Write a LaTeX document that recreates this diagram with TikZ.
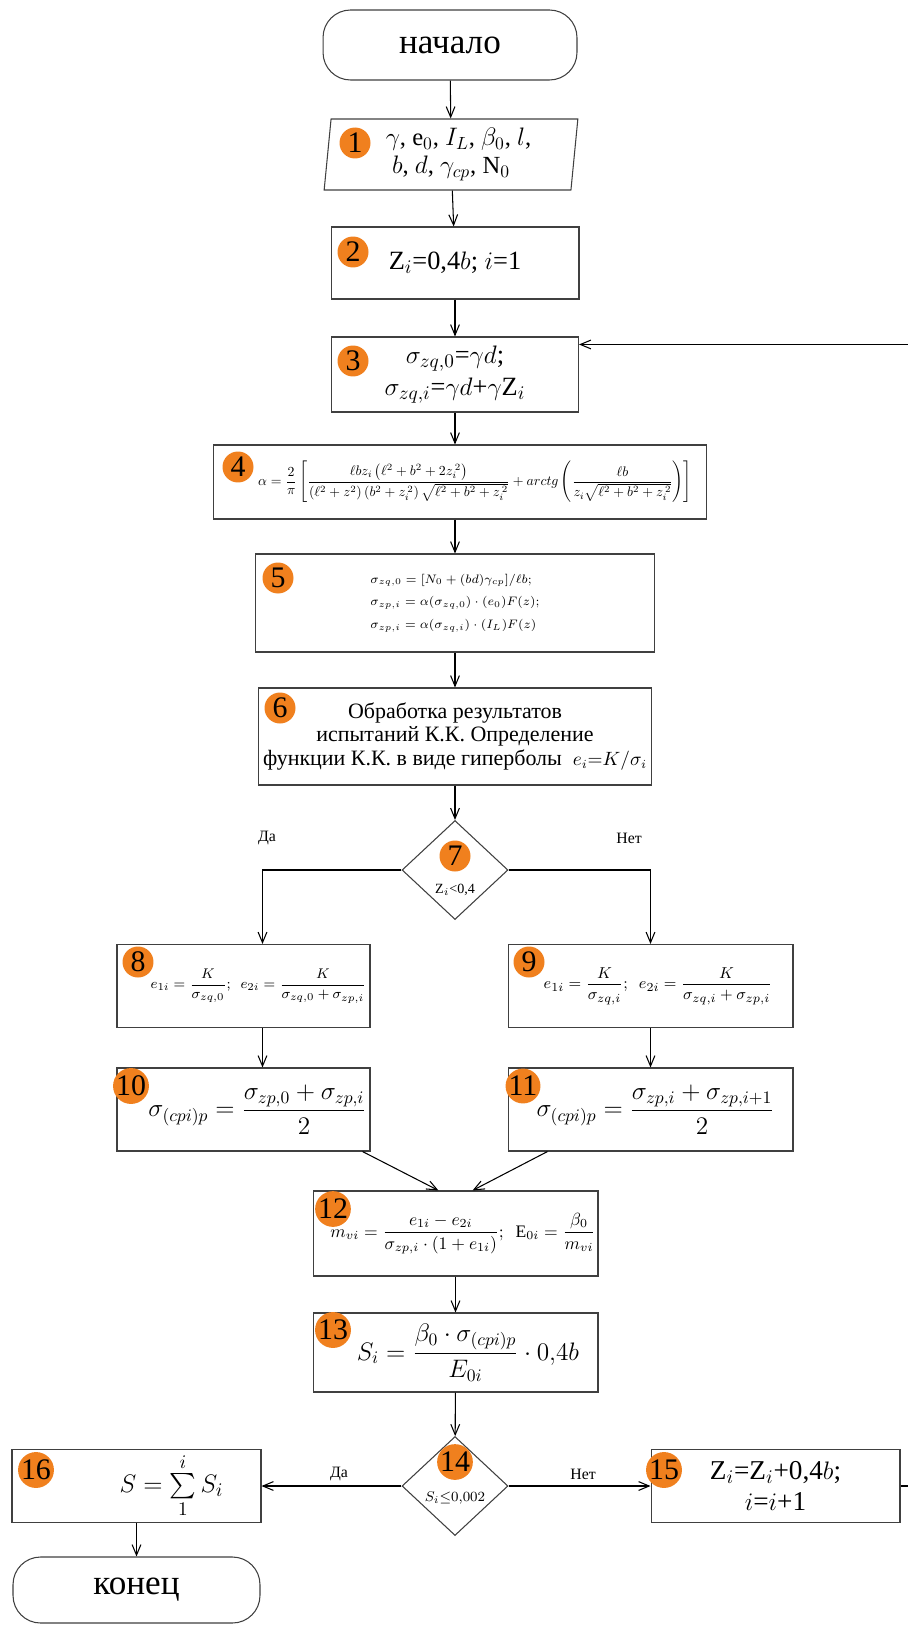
\documentclass[tikz,border=0pt]{standalone}
\usepackage{amsmath}
\usepackage{graphicx}
\usepackage{fontspec}
\setmainfont{Liberation Serif}
\usepackage{tikz}
\usetikzlibrary{arrows.meta,shapes.geometric,calc}
\definecolor{numorange}{RGB}{240,128,30}

\begin{document}
\begin{tikzpicture}[x=0.02cm,y=-0.02cm,line width=0.6pt,>={Straight Barb[length=6pt,width=5pt]},
  block/.style={rectangle,draw=black!75,fill=white,align=center,inner sep=0pt},
  term/.style={block,rounded corners=0.55cm,font=\fontsize{20}{24}\selectfont},
  cond/.style={diamond,draw=black!75,fill=white,inner sep=0pt,minimum width=2.12cm,minimum height=1.98cm},
  num/.style={circle,fill=numorange,inner sep=0pt,minimum size=0.62cm,font=\fontsize{17}{17}\selectfont},
  lbl/.style={font=\fontsize{9}{10}\selectfont}]
\useasboundingbox (0,0) rectangle (907,1625);
% main column
\draw (450,45) node[term,minimum width=5.08cm,minimum height=1.4cm] (start) {начало};
\draw (451,154.5) node[trapezium,trapezium left angle=85,trapezium right angle=95,trapezium stretches=true,draw=black!75,align=center,inner sep=0pt,minimum width=5.1cm,minimum height=1.42cm,font=\fontsize{14}{16}\selectfont] (in1) {\hspace*{0.3cm}$\gamma$, e$_0$, $I_L$, $\beta_0$, $l$,\\ $b$, $d$, $\gamma_{cp}$, N$_0$};
\draw (455,263) node[block,minimum width=4.96cm,minimum height=1.44cm,font=\fontsize{15}{17}\selectfont] (b2) {Z$_i$=0,4$b$; $i$=1};
\draw (455,374.5) node[block,minimum width=4.94cm,minimum height=1.5cm,font=\fontsize{15}{18}\selectfont] (b3) {$\sigma_{zq,0}$=$\gamma d$;\\ $\sigma_{zq,i}$=$\gamma d$+$\gamma$Z$_i$};
\draw (460,482) node[block,minimum width=9.88cm,minimum height=1.48cm] (b4) {\hspace*{0.6cm}\resizebox{8.68cm}{!}{$\alpha=\dfrac{2}{\pi}\left[\dfrac{\ell b z_i\left(\ell^2+b^2+2z_i^{\,2}\right)}{\left(\ell^2+z^2\right)\left(b^2+z_i^{\,2}\right)\sqrt{\ell^2+b^2+z_i^{\,2}}}+arctg\left(\dfrac{\ell b}{z_i\sqrt{\ell^2+b^2+z_i^{\,2}}}\right)\right]$}};
\draw (455,603) node[block,minimum width=7.98cm,minimum height=1.96cm,align=left,font=\fontsize{7}{13}\selectfont] (b5) {$\sigma_{zq,0}=[N_0+(bd)\gamma_{cp}]/\ell b;$\\ $\sigma_{zp,i}=\alpha(\sigma_{zq,0})\cdot(e_0)F(z);$\\ $\sigma_{zp,i}=\alpha(\sigma_{zq,i})\cdot(I_L)F(z)$};
\draw (455,736.5) node[block,minimum width=7.86cm,minimum height=1.94cm,font=\fontsize{12.5}{13.5}\selectfont] (b6) {Обработка результатов\\ испытаний К.К. Определение\\ функции К.К. в виде гиперболы \ {\fontsize{10.5}{12}\selectfont$e_i{=}K/\sigma_i$}};
\draw (455,870) node[cond] (d7) {};
% branches
\draw (243.5,986) node[block,minimum width=5.06cm,minimum height=1.66cm,font=\fontsize{8.3}{10}\selectfont] (b8) {\makebox[4.9cm]{\hspace*{0.6cm}\raisebox{-0.12cm}{$e_{1i}=\dfrac{K}{\sigma_{zq,0}};\ \ e_{2i}=\dfrac{K}{\sigma_{zq,0}+\sigma_{zp,i}}$}}};
\draw (650.5,986) node[block,minimum width=5.7cm,minimum height=1.66cm,font=\fontsize{9.5}{10}\selectfont] (b9) {\makebox[5.5cm]{\hspace*{0.3cm}\raisebox{-0.12cm}{$e_{1i}=\dfrac{K}{\sigma_{zq,i}};\ \ e_{2i}=\dfrac{K}{\sigma_{zq,i}+\sigma_{zp,i}}$}}};
\draw (243.5,1109.5) node[block,minimum width=5.06cm,minimum height=1.66cm,font=\fontsize{14}{16}\selectfont] (b10) {\makebox[4.9cm]{\hspace*{0.56cm}\raisebox{-0.2cm}{$\sigma_{(cpi)p}=\dfrac{\sigma_{zp,0}+\sigma_{zp,i}}{2}$}}};
\draw (650.5,1109.5) node[block,minimum width=5.7cm,minimum height=1.66cm,font=\fontsize{14}{16}\selectfont] (b11) {\makebox[5.5cm]{\hspace*{0.2cm}\raisebox{-0.2cm}{$\sigma_{(cpi)p}=\dfrac{\sigma_{zp,i}+\sigma_{zp,i+1}}{2}$}}};
\draw (455.5,1233.5) node[block,minimum width=5.7cm,minimum height=1.7cm,font=\fontsize{10}{12}\selectfont] (b12) {\makebox[5.5cm]{\hspace*{0.3cm}\raisebox{-0.22cm}{$m_{vi}=\dfrac{e_{1i}-e_{2i}}{\sigma_{zp,i}\cdot(1+e_{1i})};\ \ \mathrm{E}_{0i}=\dfrac{\beta_0}{m_{vi}}$}}};
\draw (455.5,1352.5) node[block,minimum width=5.7cm,minimum height=1.58cm,font=\fontsize{14}{16}\selectfont] (b13) {\makebox[5.5cm]{\hspace*{0.5cm}$S_i=\dfrac{\beta_0\cdot\sigma_{(cpi)p}}{E_{0i}}\cdot0{,}4b$}};
\draw (455,1486) node[cond] (d14) {};
\draw (775.5,1486) node[block,minimum width=4.98cm,minimum height=1.46cm,font=\fontsize{15.5}{18}\selectfont] (b15) {Z$_i$=Z$_i$+0,4$b$;\\ $i$=$i$+1};
\draw (136.5,1486) node[block,minimum width=4.98cm,minimum height=1.46cm,font=\fontsize{15}{18}\selectfont] (b16) {\makebox[4.8cm]{\hspace*{1.4cm}$S=\sum\limits_{1}^{i}S_i$}};
\draw (136.5,1590) node[term,minimum width=4.94cm,minimum height=1.32cm] (end) {конец};
% texts in the conditions
\draw (455,890) node[font=\fontsize{8}{9}\selectfont] (t7) {Z$_i$<0,4};
\draw (455,1498) node[font=\fontsize{8}{9}\selectfont] (t14) {$S_i{\leq}0{,}002$};
% numbers
\draw (355,143) node[num] (n1) {1};
\draw (353,252) node[num] (n2) {2};
\draw (353,361) node[num] (n3) {3};
\draw (238,467) node[num] (n4) {4};
\draw (278,578) node[num] (n5) {5};
\draw (280,708) node[num] (n6) {6};
\draw (455,856) node[num] (n7) {7};
\draw (138,962) node[num] (n8) {8};
\draw (529,962) node[num] (n9) {9};
\draw (131,1086) node[num] (n10) {10};
\draw (523,1086) node[num] (n11) {11};
\draw (333,1209) node[num] (n12) {12};
\draw (333,1330) node[num] (n13) {13};
\draw (455,1462) node[num] (n14) {14};
\draw (664,1470) node[num] (n15) {15};
\draw (36,1470) node[num] (n16) {16};
% labels
\draw (267,838) node[lbl] (da1) {Да};
\draw (629,838) node[lbl] (net1) {Нет};
\draw (339,1474) node[lbl] (da2) {Да};
\draw (583,1474) node[lbl] (net2) {Нет};
% arrows
\draw[->] (start) -- (in1);
\draw[->] (in1) -- (b2);
\draw[->] (b2) -- (b3);
\draw[->] (b3.south) -- (b3.south |- b4.north);
\draw[->] (b4.south -| b5.north) -- (b5.north);
\draw[->] (b5) -- (b6);
\draw[->] (b6) -- (d7);
\draw[->] (d7.west) -| ([xshift=0.38cm]b8.north);
\draw[->] (d7.east) -| (b9.north);
\draw[->] ([xshift=0.38cm]b8.south) -- ([xshift=0.38cm]b10.north);
\draw[->] (b9) -- (b11);
\draw[->] ([xshift=-0.16cm]b10.south east) -- ([xshift=-0.34cm]b12.north);
\draw[->] ([xshift=0.8cm]b11.south west) -- ([xshift=0.34cm]b12.north);
\draw[->] (b12) -- (b13);
\draw[->] (b13) -- (d14);
\draw[->] (d14.west) -- (b16.east);
\draw[->] (d14.east) -- (b15.west);
\draw[->] (b16) -- (end);
\draw[->] (b15.east) -- ++(20,0) |- ([yshift=-0.16cm]b3.north east);
\end{tikzpicture}
\end{document}
